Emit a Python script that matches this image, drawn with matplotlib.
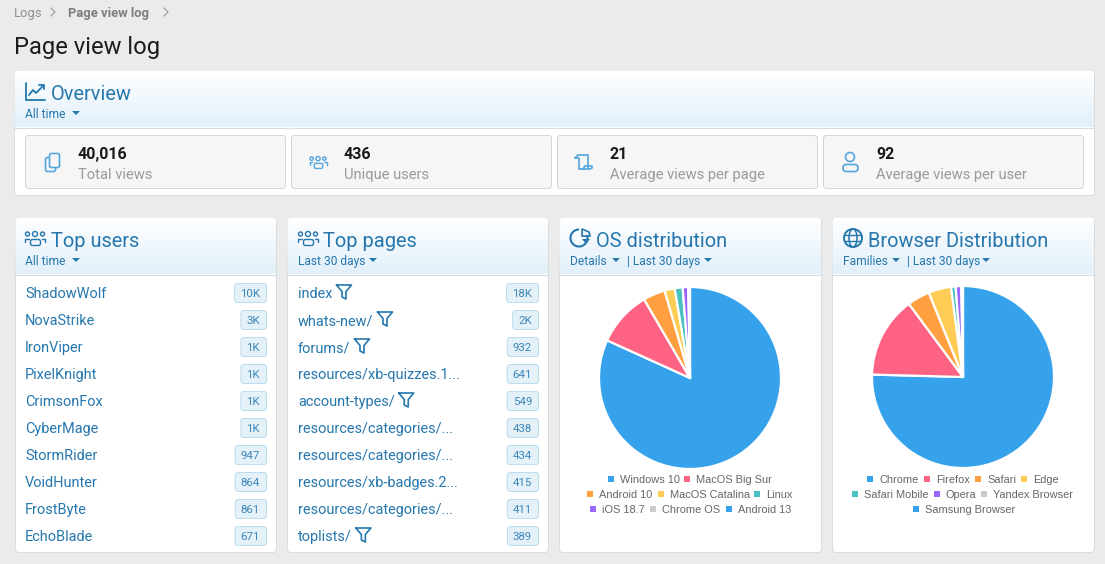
import numpy as np
import matplotlib
matplotlib.use("Agg")
import matplotlib.pyplot as plt
from matplotlib.patches import FancyBboxPatch, Circle, Polygon, Rectangle, Arc, Ellipse

# values
stat_values = ['40,016', '436', '21', '92']
stat_labels = ['Total views', 'Unique users', 'Average views per page', 'Average views per user']

users = ['ShadowWolf', 'NovaStrike', 'IronViper', 'PixelKnight', 'CrimsonFox',
         'CyberMage', 'StormRider', 'VoidHunter', 'FrostByte', 'EchoBlade']
user_counts = ['10K', '3K', '1K', '1K', '1K', '1K', '947', '864', '861', '671']

pages = ['index', 'whats-new/', 'forums/', 'resources/xb-quizzes.1...', 'account-types/',
         'resources/categories/...', 'resources/categories/...', 'resources/xb-badges.2...',
         'resources/categories/...', 'toplists/']
page_counts = ['18K', '2K', '932', '641', '549', '438', '434', '415', '411', '389']
page_has_filter = [True, True, True, False, True, False, False, False, False, True]

os_names = ['Windows 10', 'MacOS Big Sur', 'Android 10', 'MacOS Catalina', 'Linux',
            'iOS 18.7', 'Chrome OS', 'Android 13']
os_share = [81.7, 9.8, 3.9, 1.8, 1.4, 1.0, 0.2, 0.1]
browser_names = ['Chrome', 'Firefox', 'Safari', 'Edge', 'Safari Mobile', 'Opera',
                 'Yandex Browser', 'Samsung Browser']
browser_share = [75.2, 14.4, 4.0, 4.0, 0.8, 1.0, 0.2, 0.1]
pie_colors = ['#36a2eb', '#ff6384', '#ff9f40', '#ffcd56', '#4bc0c0', '#9966ff', '#c9cbcf', '#36a2eb']

BG = '#ebebeb'
BLUE = '#2577ae'
ICON = '#55a5de'

plt.rcParams['font.family'] = ['Roboto', 'DejaVu Sans']
fig = plt.figure(figsize=(11.05, 5.64), dpi=100, facecolor=BG)
ax = fig.add_axes([0, 0, 1, 1])
ax.set_xlim(0, 1105)
ax.set_ylim(564, 0)
ax.axis('off')


def label(x, y, s, size, color, **kw):
    # y is the middle of the x-height, so rows do not jump with descenders
    return ax.text(x, y + size * 0.36, s, fontsize=size * 0.72, color=color, va='baseline',
                   ha=kw.pop('ha', 'left'), zorder=kw.pop('zorder', 4), **kw)


def text_span(t):
    bb = t.get_window_extent(fig.canvas.get_renderer())
    return bb.x0, bb.x1


def box(x0, y0, x1, y1, fc, ec, r=4, lw=0.72, z=1):
    # half pixel offset keeps 1px borders crisp
    x0, y0, x1, y1 = x0 + 0.5, y0 + 0.5, x1 + 0.5, y1 + 0.5
    p = FancyBboxPatch((x0 + r, y0 + r), x1 - x0 - 2 * r, y1 - y0 - 2 * r,
                       boxstyle=f'round,pad={r},rounding_size={r}', fc=fc, ec=ec, lw=lw, zorder=z)
    ax.add_patch(p)
    return p


def card(x0, y0, x1, y1, header_bottom):
    p = box(x0, y0, x1, y1, 'white', '#dcdcdc')
    grad = np.linspace(0, 1, 64)[:, None, None] * (np.array([226, 240, 250]) - 255) + 255
    im = ax.imshow(grad.astype(np.uint8), extent=[x0, x1, header_bottom, y0], aspect='auto', zorder=1.5)
    im.set_clip_path(p)
    ax.plot([x0, x1], [header_bottom + 0.5, header_bottom + 0.5], color='#d6dee4', lw=0.8, zorder=2)
    ax.set_xlim(0, 1105)
    ax.set_ylim(564, 0)


def caret(x, y, color=BLUE):
    ax.add_patch(Polygon([(x - 4, y - 2), (x + 4, y - 2), (x, y + 2)], fc=color, ec='none', zorder=3))


def chevron(x, y):
    ax.plot([x - 2, x + 2, x - 2], [y - 4, y, y + 4], color='#9a9a9a', lw=0.8, zorder=3)


def stroke(xs, ys, color, lw=1.0):
    ax.plot(xs, ys, color=color, lw=lw, zorder=3, solid_capstyle='round', solid_joinstyle='round')


def ring(x, y, r, color, lw=1.0):
    ax.add_patch(Circle((x, y), r, fc='none', ec=color, lw=lw, zorder=3))


def icon_users(x, y, color=BLUE, s=1.0):
    for dx, r in ((-7.5, 2.0), (0, 2.5), (7.5, 2.0)):
        ring(x + dx * s, y - 4 * s, r * s, color)
    box(x - 5 * s, y + 1 * s, x + 5 * s, y + 7 * s, 'none', color, r=2 * s, lw=1.0, z=3)
    stroke([x - 10 * s, x - 10 * s, x - 6.5 * s], [y + 3.5 * s, y + 0.5 * s, y + 0.5 * s], color)
    stroke([x + 10 * s, x + 10 * s, x + 6.5 * s], [y + 3.5 * s, y + 0.5 * s, y + 0.5 * s], color)


def icon_funnel(x, y):
    stroke([x, x + 15, x + 9.5, x + 9.5, x + 5.5, x + 5.5, x],
           [y - 7, y - 7, y - 0.5, y + 7, y + 5, y - 0.5, y - 7], BLUE, 1.2)


def icon_chart(x, y):
    stroke([x, x, x + 19], [y - 9, y + 8, y + 8], BLUE, 1.3)
    stroke([x + 3, x + 7, x + 10, x + 17], [y + 3, y - 2, y + 1, y - 6], BLUE, 1.3)
    stroke([x + 13, x + 18, x + 18], [y - 7, y - 7, y - 3], BLUE, 1.3)


def icon_pie(x, y):
    ax.add_patch(Arc((x, y), 17, 17, theta1=-20, theta2=270, ec=BLUE, lw=1.5, zorder=3))
    ax.add_patch(Polygon([(x + 3, y - 9), (x + 3, y - 2), (x + 11, y - 2), (x + 10, y - 6)],
                         fc='none', ec=BLUE, lw=1.2, zorder=3))
    ax.add_patch(Polygon([(x + 3, y + 1), (x + 11, y + 1), (x + 7, y + 6)], fc=BLUE, ec='none', zorder=3))


def icon_globe(x, y):
    ring(x, y, 9, BLUE, 1.4)
    ax.add_patch(Ellipse((x, y), 8, 18, fc='none', ec=BLUE, lw=1.1, zorder=3))
    stroke([x - 8, x + 8], [y - 3, y - 3], BLUE)
    stroke([x - 8, x + 8], [y + 3, y + 3], BLUE)


def icon_copy(x, y):
    box(x - 7, y - 5, x + 3, y + 9, '#f6f6f6', ICON, r=2, lw=1.2, z=3)
    box(x - 3, y - 9, x + 7, y + 5, '#f6f6f6', ICON, r=2, lw=1.2, z=3.1)


def icon_scroll(x, y):
    stroke([x - 9, x - 6, x + 4, x + 4], [y - 4, y - 7, y - 7, y + 6], ICON, 1.2)
    stroke([x - 9, x - 5, x - 5, x - 1], [y - 4, y - 4, y + 7, y + 7], ICON, 1.2)
    stroke([x - 1, x + 6, x + 8, x + 8, x + 1, x - 1], [y + 7, y + 7, y + 6, y + 4, y + 4, y + 7], ICON, 1.2)


def icon_user(x, y):
    ring(x, y - 5, 4.5, ICON, 1.2)
    box(x - 7.5, y + 2, x + 7.5, y + 9, 'none', ICON, r=3, lw=1.2, z=3)


def draw_list(x0, x1, names, counts, filters=None):
    for i, (name, count) in enumerate(zip(names, counts)):
        y = 293 + i * 27
        t = label(x0, y, name, 14.5, BLUE)
        if filters is not None and filters[i]:
            icon_funnel(text_span(t)[1] + 4, y - 1)
        c = label(x1 - 6, y, count, 11.5, '#3d87b8', ha='right')
        left, right = text_span(c)
        box(x1 - (right - left) - 12, y - 10, x1, y + 9, '#e4f1f9', '#bcdcef', r=3, z=3)


def draw_pie(cx, cy, r, share):
    pie_ax = fig.add_axes([(cx - r) / 1105, 1 - (cy + r) / 564, 2 * r / 1105, 2 * r / 564])
    pie_ax.pie(share, colors=pie_colors, startangle=90, counterclock=False, radius=1,
               wedgeprops=dict(edgecolor='white', linewidth=1.6))
    pie_ax.set_xlim(-1, 1)
    pie_ax.set_ylim(-1, 1)
    pie_ax.axis('off')


def draw_legend(names, marker_x, rows_y, per_row):
    k = 0
    for y, n in zip(rows_y, per_row):
        for _ in range(n):
            ax.add_patch(Rectangle((marker_x[k] - 3, y - 3), 6, 6, fc=pie_colors[k], ec='none', zorder=3))
            label(marker_x[k] + 9, y, names[k], 11, '#666666', family='Liberation Sans')
            k += 1


# breadcrumb and page title
label(14, 12, 'Logs', 13, '#8f8f8f')
chevron(53, 12)
label(68, 12, 'Page view log', 13, '#7d7d7d', fontweight='bold')
chevron(166, 12)
label(14, 45, 'Page view log', 23.7, '#1c1c1c')

# overview card
card(14, 70, 1094, 195, 127)
icon_chart(26, 92)
label(51, 93, 'Overview', 20, BLUE)
label(25, 114, 'All time', 12, BLUE)
caret(76, 113)

stat_x = [25, 291, 557, 823]
stat_icons = [icon_copy, None, icon_scroll, icon_user]
for x, val, lab, ic in zip(stat_x, stat_values, stat_labels, stat_icons):
    box(x, 135, x + 260, 188, '#f6f6f6', '#d6d6d6', r=3)
    if ic is None:
        icon_users(x + 27, 162, ICON, 0.85)
    else:
        ic(x + 27, 162)
    label(x + 53, 153, val, 16, '#1a1a1a', fontweight='bold')
    label(x + 53, 174, lab, 14.7, '#9a9a9a')

# lower cards
card(15, 217, 276, 552, 274)
icon_users(35, 238)
label(51, 240, 'Top users', 20, BLUE)
label(25, 261, 'All time', 12, BLUE)
caret(76, 260)
draw_list(25, 266, users, user_counts)

card(287, 217, 548, 552, 274)
icon_users(308, 238)
label(323, 240, 'Top pages', 20, BLUE)
label(298, 261, 'Last 30 days', 12, BLUE)
caret(373, 260)
draw_list(298, 538, pages, page_counts, page_has_filter)

card(559, 217, 821, 552, 274)
icon_pie(579, 238)
label(596, 240, 'OS distribution', 20, BLUE)
label(570, 261, 'Details', 12, BLUE)
caret(616, 260)
label(627, 261, '| Last 30 days', 12, BLUE)
caret(708, 260)
draw_pie(690, 378, 91, os_share)
draw_legend(os_names, [611, 687, 590, 661, 757, 593, 653, 729], [479, 494, 509], [2, 3, 3])

card(832, 217, 1094, 552, 274)
icon_globe(853, 238)
label(868, 240, 'Browser Distribution', 20, BLUE)
label(843, 261, 'Families', 12, BLUE)
caret(896, 260)
label(907, 261, '| Last 30 days', 12, BLUE)
caret(986, 260)
draw_pie(963, 377, 91, browser_share)
draw_legend(browser_names, [870, 927, 978, 1024, 855, 937, 984, 916], [479, 494, 509], [4, 3, 1])

fig.savefig('out.png', dpi=100, facecolor=BG)
